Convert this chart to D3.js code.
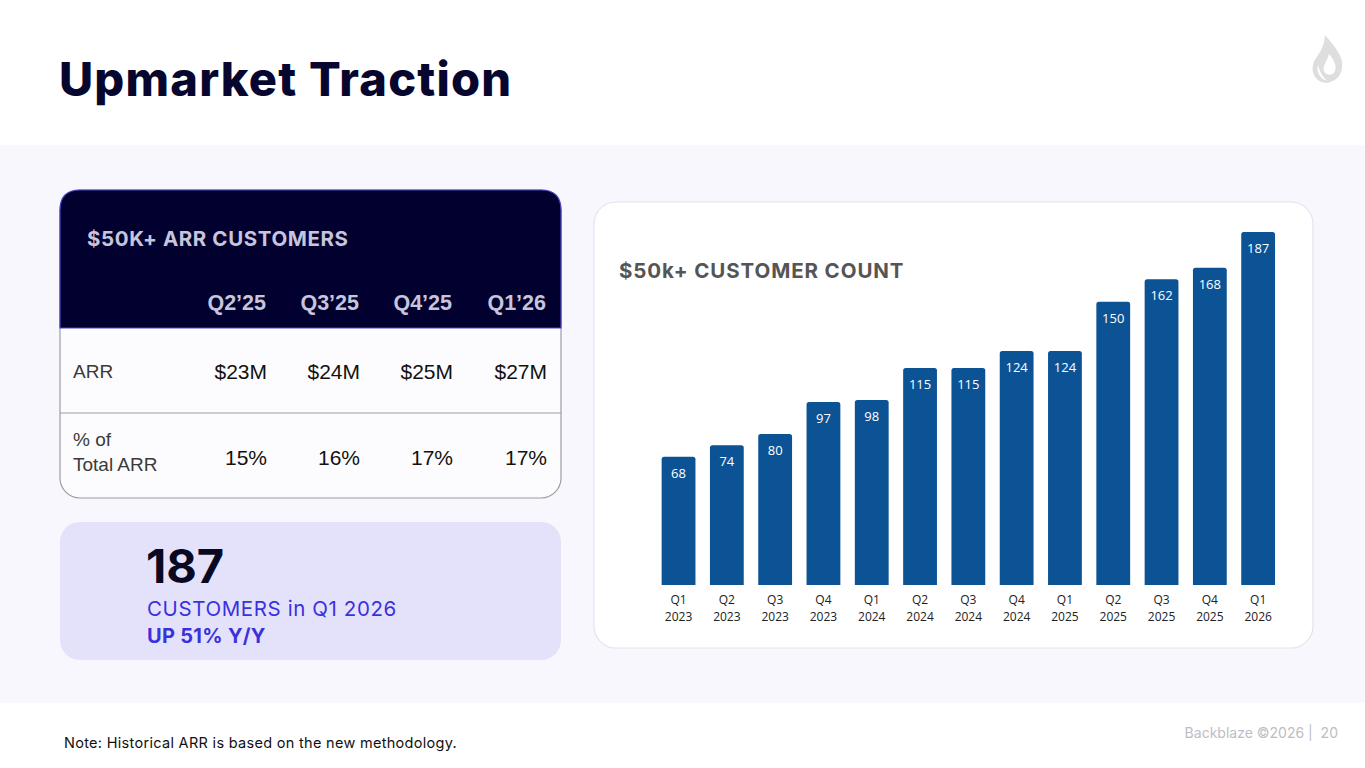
<!DOCTYPE html>
<html>
<head>
<meta charset="utf-8">
<script src="https://cdn.jsdelivr.net/npm/d3@7"></script>
<style>
  html, body { margin: 0; padding: 0; background: #fff; }
  svg { display: block; }
</style>
</head>
<body>
<div id="canvas"></div>
<script>
// Upmarket Traction slide: summary table, callout box and a bar chart.

const quarters = ["Q1 2023", "Q2 2023", "Q3 2023", "Q4 2023", "Q1 2024", "Q2 2024", "Q3 2024",
                  "Q4 2024", "Q1 2025", "Q2 2025", "Q3 2025", "Q4 2025", "Q1 2026"];
const customerCount = [68, 74, 80, 97, 98, 115, 115, 124, 124, 150, 162, 168, 187];

const tableCols = ["Q2’25", "Q3’25", "Q4’25", "Q1’26"];
const arrValues = ["$23M", "$24M", "$25M", "$27M"];
const pctValues = ["15%", "16%", "17%", "17%"];

const width = 1365, height = 768;
const svg = d3.select("#canvas").append("svg")
  .attr("width", width).attr("height", height);

const sans = "Inter, 'Noto Sans', sans-serif";
const arial = "'Liberation Sans', Arial, sans-serif";

// background band
svg.append("rect").attr("x", 0).attr("y", 145).attr("width", width).attr("height", 558)
  .attr("fill", "#f7f7fd");

// title
svg.append("text").attr("x", 59).attr("y", 96)
  .attr("font-family", sans).attr("font-weight", 800).attr("font-size", 47)
  .attr("letter-spacing", "1.2").attr("fill", "#07062e")
  .text("Upmarket Traction");

// logo (flame)
const logo = svg.append("g").attr("transform", "translate(1328,60)").attr("fill", "#dedede");
logo.append("path").attr("d", "M-3,-25 C6,-14 16,-4 14,8 C13,16 7,22 -2,23 C-12,22 -17,13 -15,5 C-13,-4 -4,-8 -3,-25 Z");
logo.append("path").attr("d", "M1,-6 C6,0 9,6 7,11 C5,16 -2,16 -4,11 C-6,6 -1,2 1,-6 Z").attr("fill", "#fff");
logo.append("path").attr("d", "M-10,5 C-12,12 -8,19 0,21 C-6,17 -8,12 -10,5 Z").attr("fill", "#fff");

// ---------- TABLE CARD ----------
const tx = 60, ty = 190, tw = 501, th = 308, r = 20, hh = 138;
svg.append("rect").attr("x", tx).attr("y", ty).attr("width", tw).attr("height", th)
  .attr("rx", r).attr("fill", "#fcfcfe").attr("stroke", "#9c9ca4").attr("stroke-width", 1.2);
svg.append("path")
  .attr("d", `M${tx},${ty + hh} V${ty + r} Q${tx},${ty} ${tx + r},${ty} H${tx + tw - r} Q${tx + tw},${ty} ${tx + tw},${ty + r} V${ty + hh} Z`)
  .attr("fill", "#02002e").attr("stroke", "#4a42c4").attr("stroke-width", 1.2);

svg.append("text").attr("x", 87).attr("y", 246)
  .attr("font-family", sans).attr("font-weight", 700).attr("font-size", 20.5)
  .attr("letter-spacing", "0.6").attr("fill", "#c6c5dc").text("$50K+ ARR CUSTOMERS");

const colRight = [266, 359, 452, 546];
svg.selectAll(".colHead").data(tableCols).join("text")
  .attr("x", (d, i) => colRight[i]).attr("y", 310).attr("text-anchor", "end")
  .attr("font-family", arial).attr("font-weight", 700).attr("font-size", 21.5)
  .attr("fill", "#c6c5dc").text(d => d);

svg.append("text").attr("x", 73).attr("y", 378)
  .attr("font-family", arial).attr("font-size", 19).attr("fill", "#3a3a3a").text("ARR");
svg.selectAll(".arr").data(arrValues).join("text")
  .attr("x", (d, i) => colRight[i] + 1).attr("y", 379).attr("text-anchor", "end")
  .attr("font-family", arial).attr("font-size", 21).attr("fill", "#111").text(d => d);

svg.append("line").attr("x1", tx).attr("x2", tx + tw).attr("y1", 413).attr("y2", 413)
  .attr("stroke", "#9c9ca4").attr("stroke-width", 1.2);

svg.append("text").attr("x", 73).attr("y", 446)
  .attr("font-family", arial).attr("font-size", 19).attr("fill", "#3a3a3a").text("% of");
svg.append("text").attr("x", 73).attr("y", 471)
  .attr("font-family", arial).attr("font-size", 19).attr("fill", "#3a3a3a").text("Total ARR");
svg.selectAll(".pct").data(pctValues).join("text")
  .attr("x", (d, i) => colRight[i] + 1).attr("y", 465).attr("text-anchor", "end")
  .attr("font-family", arial).attr("font-size", 21).attr("fill", "#111").text(d => d);

// ---------- CALLOUT ----------
svg.append("rect").attr("x", 60).attr("y", 522).attr("width", 501).attr("height", 138)
  .attr("rx", 20).attr("fill", "#e4e2fb");
svg.append("text").attr("x", 146).attr("y", 583)
  .attr("font-family", sans).attr("font-weight", 700).attr("font-size", 47)
  .attr("letter-spacing", "0").attr("fill", "#0a0924")
  .text(customerCount[customerCount.length - 1]);
svg.append("text").attr("x", 147).attr("y", 616)
  .attr("font-family", sans).attr("font-size", 20.5).attr("letter-spacing", "0.6")
  .attr("fill", "#3b31dc").text("CUSTOMERS in Q1 2026");
svg.append("text").attr("x", 147).attr("y", 643)
  .attr("font-family", sans).attr("font-weight", 700).attr("font-size", 20).attr("letter-spacing", "0.3")
  .attr("fill", "#3b31dc").text("UP 51% Y/Y");

// ---------- BAR CHART CARD ----------
svg.append("rect").attr("x", 594).attr("y", 202).attr("width", 719).attr("height", 446)
  .attr("rx", 22).attr("fill", "#fff").attr("stroke", "#e3e3f0").attr("stroke-width", 1.2);
svg.append("text").attr("x", 619).attr("y", 278)
  .attr("font-family", sans).attr("font-weight", 700).attr("font-size", 20.5)
  .attr("letter-spacing", "0.9").attr("fill", "#555").text("$50k+ CUSTOMER COUNT");

const x = d3.scaleBand().domain(quarters).range([654.4, 1282.3])
  .paddingInner(0.3).paddingOuter(0.15);
const y = d3.scaleLinear().domain([0, 187]).range([585, 232]);

const bw = x.bandwidth(), cr = 2.5;
const barPath = d => {
  const x0 = x(d.q), x1 = x0 + bw, y0 = y(d.v), yb = y(0);
  return `M${x0},${yb} V${y0 + cr} Q${x0},${y0} ${x0 + cr},${y0} H${x1 - cr} Q${x1},${y0} ${x1},${y0 + cr} V${yb} Z`;
};
const barData = quarters.map((q, i) => ({ q, v: customerCount[i] }));

const chart = svg.append("g");
chart.selectAll(".bar").data(barData).join("path")
  .attr("d", barPath).attr("fill", "#0c5396");

chart.selectAll(".val").data(barData).join("text")
  .attr("x", d => x(d.q) + bw / 2).attr("y", d => y(d.v) + 21)
  .attr("text-anchor", "middle").attr("font-family", "'Open Sans', sans-serif")
  .attr("font-size", 13).attr("fill", "#fff").text(d => d.v);

// x axis labels (two lines)
const xAxis = chart.append("g").attr("transform", `translate(0,${y(0)})`)
  .call(d3.axisBottom(x).tickSize(0).tickPadding(0).tickFormat(""));
xAxis.select(".domain").remove();
xAxis.selectAll(".tick").each(function (d) {
  const [qq, yy] = d.split(" ");
  const t = d3.select(this).append("text")
    .attr("font-family", "'Open Sans', sans-serif").attr("font-size", 12)
    .attr("fill", "#222").attr("text-anchor", "middle");
  t.append("tspan").attr("x", 0).attr("y", 19).text(qq);
  t.append("tspan").attr("x", 0).attr("y", 36).text(yy);
});

// ---------- FOOTER ----------
svg.append("text").attr("x", 64).attr("y", 748)
  .attr("font-family", sans).attr("font-size", 14.5).attr("letter-spacing", "0.3")
  .attr("fill", "#111")
  .text("Note: Historical ARR is based on the new methodology.");
svg.append("text").attr("x", 1338).attr("y", 738).attr("text-anchor", "end")
  .attr("font-family", sans).attr("font-size", 14).attr("fill", "#bdbdc4")
  .attr("xml:space", "preserve").text("Backblaze ©2026 |  20");
</script>
</body>
</html>
